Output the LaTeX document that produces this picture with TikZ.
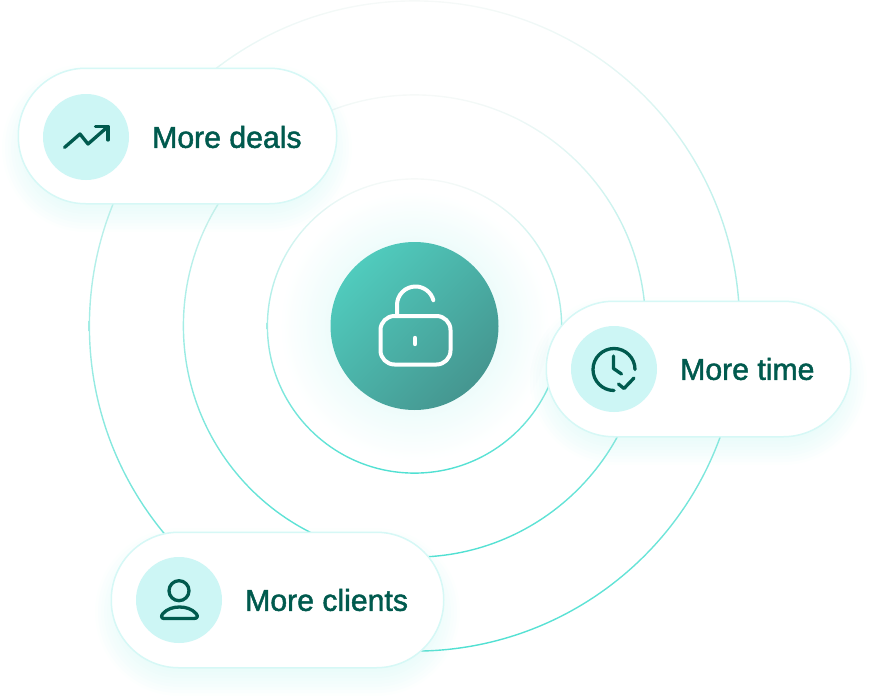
\documentclass[tikz,border=0pt]{standalone}
\usepackage{fontspec}
\setmainfont{Liberation Sans}
\newfontfamily\pillfont[FakeBold=1.6]{Liberation Sans}
\usetikzlibrary{positioning}
\definecolor{ink}{HTML}{005A4E}
\definecolor{ballcol}{HTML}{CDF6F5}
\definecolor{edgecol}{HTML}{D6F8F6}
\definecolor{glowcol}{HTML}{A5F0EA}
\definecolor{ringtop}{HTML}{F6F9F8}
\definecolor{ringmid}{HTML}{A5D8D0}
\definecolor{ringlow}{HTML}{50E0D2}
\definecolor{hubhi}{HTML}{50CBBD}
\definecolor{hublo}{HTML}{459690}
\tikzset{ring/.style = {even odd rule, top color=ringtop, middle color=ringmid, bottom color=ringlow}}
\tikzset{halo/.style = {fill=glowcol, opacity=0.028}}
\tikzset{pill/.style = {rectangle, draw=edgecol, line width=1.5, fill=white, rounded corners=67.5,
                        minimum height=135.5, inner sep=0}}
\tikzset{ball/.style = {circle, fill=ballcol, minimum size=86, inner sep=0}}
\tikzset{lbl/.style = {anchor=west, inner sep=0, text=ink, font=\fontsize{30.2}{32}\pillfont}}
\tikzset{glyph/.style = {draw=ink, line width=3.3, line cap=round, line join=round}}
\tikzset{lock/.style = {draw=white, line width=4, line cap=round, line join=round}}
\begin{document}
\begin{tikzpicture}[x=1pt, y=-1pt]
    \useasboundingbox (0, 0) rectangle (870, 699);
    \coordinate (mid) at (414.5, 326);

    \shade [inner color=glowcol!50, outer color=white] (mid) circle (135);

    \path [ring] (mid) circle (325.8) (mid) circle (324.4);
    \path [ring] (mid) circle (231.8) (mid) circle (230.4);
    \path [ring] (mid) circle (147.8) (mid) circle (146.4);

    \node [circle, minimum size=168, inner sep=0, top color=hubhi, bottom color=hublo, shading angle=45] (hub) at (mid) {};
    \draw [lock, rounded corners=14] (380.5, 316) rectangle (450.5, 364.5);
    \draw [lock] (397, 316) -- (397, 305) arc (180:345:18.5);
    \draw [lock, line width=4.4] (415, 338) -- (415, 344);

    \foreach \l/\r/\c in {18/336/136, 546/851/369, 111/444/600} {
      \foreach \g in {-8, -5, ..., 16} {
        \fill [halo, rounded corners=68 + \g] (\l - \g, \c + 12 - 68 - \g) rectangle (\r + \g, \c + 12 + 68 + \g);
      }
    }

    \node [pill, minimum width=318.5] (deals) at (177.5, 136) {};
    \node [ball] (dealsball) at (86, 137) {};
    \node [lbl] (dealstext) at (152, 137) {More deals};
    \draw [glyph] (64.5, 147.5) -- (80, 134) -- (88, 144) -- (108, 126.5);
    \draw [glyph] (95.5, 126.5) -- (108, 126.5) -- (108, 140);

    \node [pill, minimum width=304.5] (time) at (698.5, 369) {};
    \node [ball] (timeball) at (614, 369) {};
    \node [lbl] (timetext) at (680, 369) {More time};
    \draw [glyph] (635, 369.5) arc (0:-270:21);
    \draw [glyph] (613.5, 356) -- (613.5, 368.5) -- (621.5, 374);
    \draw [glyph] (618.5, 384) -- (624, 388.5) -- (634, 378);

    \node [pill, minimum width=332.5] (clients) at (277.5, 600) {};
    \node [ball] (clientsball) at (179, 600) {};
    \node [lbl] (clientstext) at (245, 600) {More clients};
    \draw [glyph] (179, 590.7) circle (10);
    \draw [glyph] (164, 618.5) -- (194, 618.5) .. controls (198, 618.5) and (198, 615.5) .. (196, 613.5)
        .. controls (192, 609) and (186, 607) .. (179.5, 607) .. controls (173, 607) and (167, 609) .. (163, 613.5)
        .. controls (161, 615.5) and (161, 618.5) .. (164, 618.5) -- cycle;
\end{tikzpicture}
\end{document}
